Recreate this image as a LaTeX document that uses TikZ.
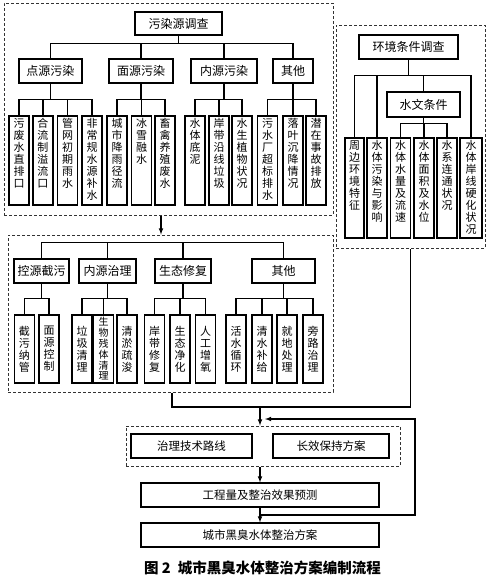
\documentclass[tikz,border=0pt]{standalone}
\usepackage{fontspec}
\usepackage{tikz}
\usetikzlibrary{calc}
\newfontfamily\cjk{Noto Sans CJK SC}

\begin{document}
\begin{tikzpicture}[x=1pt, y=-1pt, >=latex,
	every node/.style={font=\cjk\fontsize{12}{12}\selectfont},
	every path/.style={line width=1.1pt},
	box/.style={draw=black, inner sep=0pt, minimum height=24},
	leaf/.style={draw=black, inner xsep=0pt, inner ysep=1pt, text width=12, align=center, minimum width=20, font=\cjk\fontsize{11}{12}\selectfont},
	leafa/.style={leaf, text height=10, text depth=77},
	leafb/.style={leaf, text height=10, text depth=88},
	leafc/.style={leaf, minimum height=68},
	dbox/.style={draw=black!80, line width=1pt, dash pattern=on 3pt off 2pt, inner sep=0pt}]
			\useasboundingbox (0,0) rectangle (489,582);
			
			% dashed blocks
			\node[dbox, minimum width=329, minimum height=212] (blk1) at (168.5,109){};
			\node[dbox, minimum width=149, minimum height=223] (blk4) at (410.5,136.5){};
			\node[dbox, minimum width=325, minimum height=157] (blk2) at (170.5,313.5){};
			\node[dbox, minimum width=274, minimum height=40] (blk3) at (263,446){};
			
			% pollution sources
			\node[box, minimum width=87, minimum height=23] (r) at (178.5,23.5){污染源调查};
			\node[box, minimum width=63] (ds) at (50.5,71){点源污染};
			\node[box, minimum width=64] (ms) at (141,71){面源污染};
			\node[box, minimum width=66] (ns) at (224,71){内源污染};
			\node[box, minimum width=40] (qt1) at (293,71){其他};
			
			\node[leafa] (a1) at (19,160.5){污\\废\\水\\直\\排\\口};
			\node[leafa] (a2) at (43,160.5){合\\流\\制\\溢\\流\\口};
			\node[leafa] (a3) at (67.5,160.5){管\\网\\初\\期\\雨\\水};
			\node[leafa] (a4) at (92,160.5){非\\常\\规\\水\\源\\补\\水};
			\node[leafa] (a5) at (117,160.5){城\\市\\降\\雨\\径\\流};
			\node[leafa] (a6) at (141.5,160.5){冰\\雪\\融\\水};
			\node[leafa] (a7) at (165,160.5){畜\\禽\\养\\殖\\废\\水};
			\node[leafa] (a8) at (195,160.5){水\\体\\底\\泥};
			\node[leafa] (a9) at (219,160.5){岸\\带\\沿\\线\\垃\\圾};
			\node[leafa] (a10) at (242,160.5){水\\生\\植\\物\\状\\况};
			\node[leafa] (a11) at (267.5,160.5){污\\水\\厂\\超\\标\\排\\水};
			\node[leafa] (a12) at (293,160.5){落\\叶\\沉\\降\\情\\况};
			\node[leafa] (a13) at (316,160.5){潜\\在\\事\\故\\排\\放};
			
			\draw (r.south) -- ++(0,8) -| (ds.north);
			\draw (r.south) -- ++(0,8) -| (ms.north);
			\draw (r.south) -- ++(0,8) -| (ns.north);
			\draw (r.south) -- ++(0,8) -| (qt1.north);
			\draw (ds.south) -- ++(0,16) -| (a1.north);
			\draw (ds.south) -- ++(0,16) -| (a2.north);
			\draw (ds.south) -- ++(0,16) -| (a3.north);
			\draw (ds.south) -- ++(0,16) -| (a4.north);
			\draw (ms.south) -- ++(0,16) -| (a5.north);
			\draw (ms.south) -- ++(0,16) -| (a6.north);
			\draw (ms.south) -- ++(0,16) -| (a7.north);
			\draw (ns.south) -- ++(0,16) -| (a8.north);
			\draw (ns.south) -- ++(0,16) -| (a9.north);
			\draw (ns.south) -- ++(0,16) -| (a10.north);
			\draw (qt1.south) -- ++(0,16) -| (a11.north);
			\draw (qt1.south) -- ++(0,16) -| (a12.north);
			\draw (qt1.south) -- ++(0,16) -| (a13.north);
			
			% environment conditions
			\node[box, minimum width=99] (hj) at (408.5,47){环境条件调查};
			\node[box, minimum width=73, minimum height=25] (sw) at (423.5,104.5){水文条件};
			\node[leafb, minimum width=19] (b1) at (354.5,188){周\\边\\环\\境\\特\\征};
			\node[leafb] (b2) at (377,188){水\\体\\污\\染\\与\\影\\响};
			\node[leafb] (b3) at (400.5,188){水\\体\\水\\量\\及\\流\\速};
			\node[leafb] (b4) at (424,188){水\\体\\面\\积\\及\\水\\位};
			\node[leafb] (b5) at (447,188){水\\系\\连\\通\\状\\况};
			\node[leafb, minimum width=22] (b6) at (471,188){水\\体\\岸\\线\\硬\\化\\状\\况};
			
			\draw (hj.south) -- ++(0,16) -| (b1.north);
			\draw (hj.south) -- ++(0,16) -| (b2.north);
			\draw (hj.south) -- ++(0,16) -| (sw.north);
			\draw (hj.south) -- ++(0,16) -| (b6.north);
			\draw (sw.south) -- ++(0,6) -| (b3.north);
			\draw (sw.south) -- ++(0,6) -| (b4.north);
			\draw (sw.south) -- ++(0,6) -| (b5.north);
			
			% measures
			\node[box, minimum width=55] (kyjw) at (41.5,271){控源截污};
			\node[box, minimum width=57] (nyzl) at (107.5,271){内源治理};
			\node[box, minimum width=56] (stxf) at (183,271){生态修复};
			\node[box, minimum width=63] (qt2) at (283.5,271){其他};
			
			\node[leafc] (c1) at (24.5,349){截\\污\\纳\\管};
			\node[leafc] (c2) at (49,349){面\\源\\控\\制};
			\node[leafc] (c3) at (82,349){垃\\圾\\清\\理};
			\node[leafc, font=\cjk\fontsize{10}{10.8}\selectfont] (c4) at (103.5,349){生\\物\\残\\体\\清\\理};
			\node[leafc] (c5) at (127,349){清\\淤\\疏\\浚};
			\node[leafc] (c6) at (154.5,349){岸\\带\\修\\复};
			\node[leafc] (c7) at (180,349){生\\态\\净\\化};
			\node[leafc] (c8) at (205.5,349){人\\工\\增\\氧};
			\node[leafc] (c9) at (236,349){活\\水\\循\\环};
			\node[leafc] (c10) at (262,349){清\\水\\补\\给};
			\node[leafc] (c11) at (287,349){就\\地\\处\\理};
			\node[leafc] (c12) at (313,349){旁\\路\\治\\理};
			
			\draw (kyjw.north) -- ++(0,-16) -| (qt2.north);
			\draw (nyzl.north) -- ++(0,-16);
			\draw (stxf.north) -- ++(0,-16);
			\draw (kyjw.south) -- ++(0,15) -| (c1.north);
			\draw (kyjw.south) -- ++(0,15) -| (c2.north);
			\draw (nyzl.south) -- ++(0,15) -| (c3.north);
			\draw (nyzl.south) -- ++(0,15) -| (c4.north);
			\draw (nyzl.south) -- ++(0,15) -| (c5.north);
			\draw (stxf.south) -- ++(0,15) -| (c6.north);
			\draw (stxf.south) -- ++(0,15) -| (c7.north);
			\draw (stxf.south) -- ++(0,15) -| (c8.north);
			\draw (qt2.south) -- ++(0,15) -| (c9.north);
			\draw (qt2.south) -- ++(0,15) -| (c10.north);
			\draw (qt2.south) -- ++(0,15) -| (c11.north);
			\draw (qt2.south) -- ++(0,15) -| (c12.north);
			
			% plan
			\node[box, minimum width=121, font=\cjk\fontsize{11.5}{12}\selectfont] (zljs) at (191.5,446){治理技术路线};
			\node[box, minimum width=116, font=\cjk\fontsize{11.5}{12}\selectfont] (cxbc) at (331,446){长效保持方案};
			\node[box, minimum width=238, font=\cjk\fontsize{11.5}{12}\selectfont] (gcl) at (260,495){工程量及整治效果预测};
			\node[box, minimum width=238, font=\cjk\fontsize{11.5}{12}\selectfont] (fa) at (260,535){城市黑臭水体整治方案};
			\node[font=\cjk\bfseries\fontsize{14.5}{15}\selectfont] (cap) at (262.5,568){图 2\enspace 城市黑臭水体整治方案编制流程};
			
			\coordinate (jct) at (260,407);
			\coordinate (fbk) at (415,419);
			\draw[->] ([xshift=-7.5]blk1.south) -- ([xshift=-7.5]blk1.south |- blk2.north);
			\draw ([xshift=1.5]blk2.south) |- (jct) -| (blk4.south);
			\draw[->] (jct) -- (jct |- blk3.north);
			\draw[->] (jct |- blk3.south) -- (gcl);
			\draw[->] (gcl) -- (fa);
			\draw[->] ($(gcl.south)!.5!(fa.north)$) -| (fbk) -- ([xshift=5]jct |- fbk);
			\end{tikzpicture}
\end{document}
